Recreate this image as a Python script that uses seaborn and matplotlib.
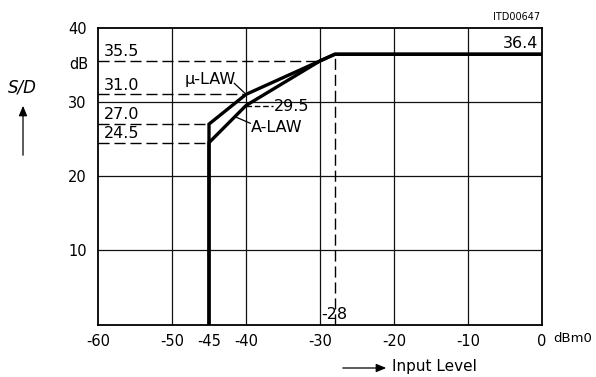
import matplotlib
matplotlib.use("Agg")
import matplotlib.pyplot as plt
import numpy as np
import pandas as pd
import seaborn as sns

# ---- data ----
mu_x = [-45, -45, -40, -30, -28, 0]
mu_y = [0, 27.0, 31.0, 35.5, 36.4, 36.4]
a_x = [-45, -45, -40, -30, -28, 0]
a_y = [0, 24.5, 29.5, 35.5, 36.4, 36.4]

grid_x = [-50, -40, -30, -20, -10]
grid_y = [10, 20, 30]
xtick_vals = [-60, -50, -45, -40, -30, -20, -10, 0]
xtick_labels = ["-60", "-50", "-45", "-40", "-30", "-20", "-10", "0"]
ytick_vals = [10, 20, 30, 40]
ytick_labels = ["10", "20", "30", "40"]

# reference (dashed) levels: (level, end x) and the knee
ref_levels = [35.5, 31.0, 27.0, 24.5]
ref_ends = [-30, -40, -45, -45]
ref_labels = ["35.5", "31.0", "27.0", "24.5"]
knee_x = -28
knee_label = "-28"
plateau_label = "36.4"
a_mid_label = "29.5"

sns.set_theme(style="white")
plt.rcParams["font.family"] = ["DejaVu Sans"]
plt.rcParams["axes.unicode_minus"] = False
plt.rcParams["text.color"] = "black"

fig = plt.figure(figsize=(5.96, 3.77), dpi=100)
ax = fig.add_axes([98 / 596, 1 - 324.7 / 377, (542 - 98) / 596, (324.7 - 27.5) / 377])

df = pd.concat([
    pd.DataFrame({"x": mu_x, "y": mu_y, "law": "mu"}),
    pd.DataFrame({"x": a_x, "y": a_y, "law": "A"}),
], ignore_index=True)
sns.lineplot(data=df, x="x", y="y", hue="law", palette={"mu": "black", "A": "black"},
             sort=False, estimator=None, legend=False, lw=2.4, ax=ax, zorder=5)
for line in ax.get_lines():
    line.set_solid_joinstyle("miter")

# grid
for v in grid_x:
    ax.axvline(v, color="#111111", lw=0.9, zorder=1)
for v in grid_y:
    ax.axhline(v, color="#111111", lw=0.9, zorder=1)

dash = (0, (8, 3.5))
for lev, end, lab in zip(ref_levels, ref_ends, ref_labels):
    ax.plot([-60, end], [lev, lev], color="black", lw=1.0, ls=dash, zorder=2)
    ax.text(-59.2, lev + 0.25, lab, ha="left", va="bottom", fontsize=11.5, color="black")
ax.plot([knee_x, knee_x], [0, mu_y[4]], color="black", lw=1.0, ls=dash, zorder=2)
ax.text(-29.8, 0.4, knee_label, ha="left", va="bottom", fontsize=11.5)
ax.text(-0.5, mu_y[-1] + 0.4, plateau_label, ha="right", va="bottom", fontsize=11.5)

# curve labels
ax.text(-48.3, 33.0, "\u03bc-LAW", ha="left", va="center", fontsize=11.5)
ax.plot([-41.6, -40.2], [32.5, 31.2], color="black", lw=0.9)
ax.text(-39.3, 26.5, "A-LAW", ha="left", va="center", fontsize=11.5)
ax.plot([-39.4, -41.5], [27.1, 28.0], color="black", lw=0.9)
ax.text(-36.3, 29.4, a_mid_label, ha="left", va="center", fontsize=11.5)
ax.plot([-40, -36.4], [a_y[2], a_y[2]], color="black", lw=1.0, ls=(0, (4, 2)))

ax.set_xlim(-60, 0)
ax.set_ylim(0, 40)
ax.set_xticks(xtick_vals)
ax.set_xticklabels(xtick_labels)
ax.set_yticks(ytick_vals)
ax.set_yticklabels(ytick_labels)
ax.tick_params(axis="both", length=0, labelsize=10.5, colors="black")
ax.tick_params(axis="x", pad=7)
ax.tick_params(axis="y", pad=8)
ax.set_xlabel("")
ax.set_ylabel("")
for s in ax.spines.values():
    s.set_color("black")
    s.set_linewidth(1.3)
    s.set_visible(True)

# unit labels
ax.annotate("dB", xy=(0, 35.0), xycoords=("axes fraction", "data"),
            xytext=(-10, 0), textcoords="offset pixels", ha="right", va="center", fontsize=10.5)
ax.annotate("dBm0", xy=(1, 0), xycoords="axes fraction",
            xytext=(11, -13.5), textcoords="offset pixels", ha="left", va="center", fontsize=9.5)

fig.text(517 / 596, 1 - 17 / 377, "ITD00647", ha="center", va="center", fontsize=7)
fig.text(22 / 596, 1 - 88 / 377, "S/D", ha="center", va="center", fontsize=12, style="italic")
fig.add_artist(matplotlib.patches.FancyArrowPatch((23 / 596, 1 - 158 / 377), (23 / 596, 1 - 103 / 377),
               transform=fig.transFigure, arrowstyle="-|>,head_length=6,head_width=2.5", lw=0.9, color="black"))
fig.add_artist(matplotlib.patches.FancyArrowPatch((340 / 596, 1 - 368 / 377), (389 / 596, 1 - 368 / 377),
               transform=fig.transFigure, arrowstyle="-|>,head_length=6,head_width=2.5", lw=0.9, color="black"))
fig.text(392 / 596, 1 - 367 / 377, "Input Level", ha="left", va="center", fontsize=11)

fig.savefig("out.png", dpi=100)
